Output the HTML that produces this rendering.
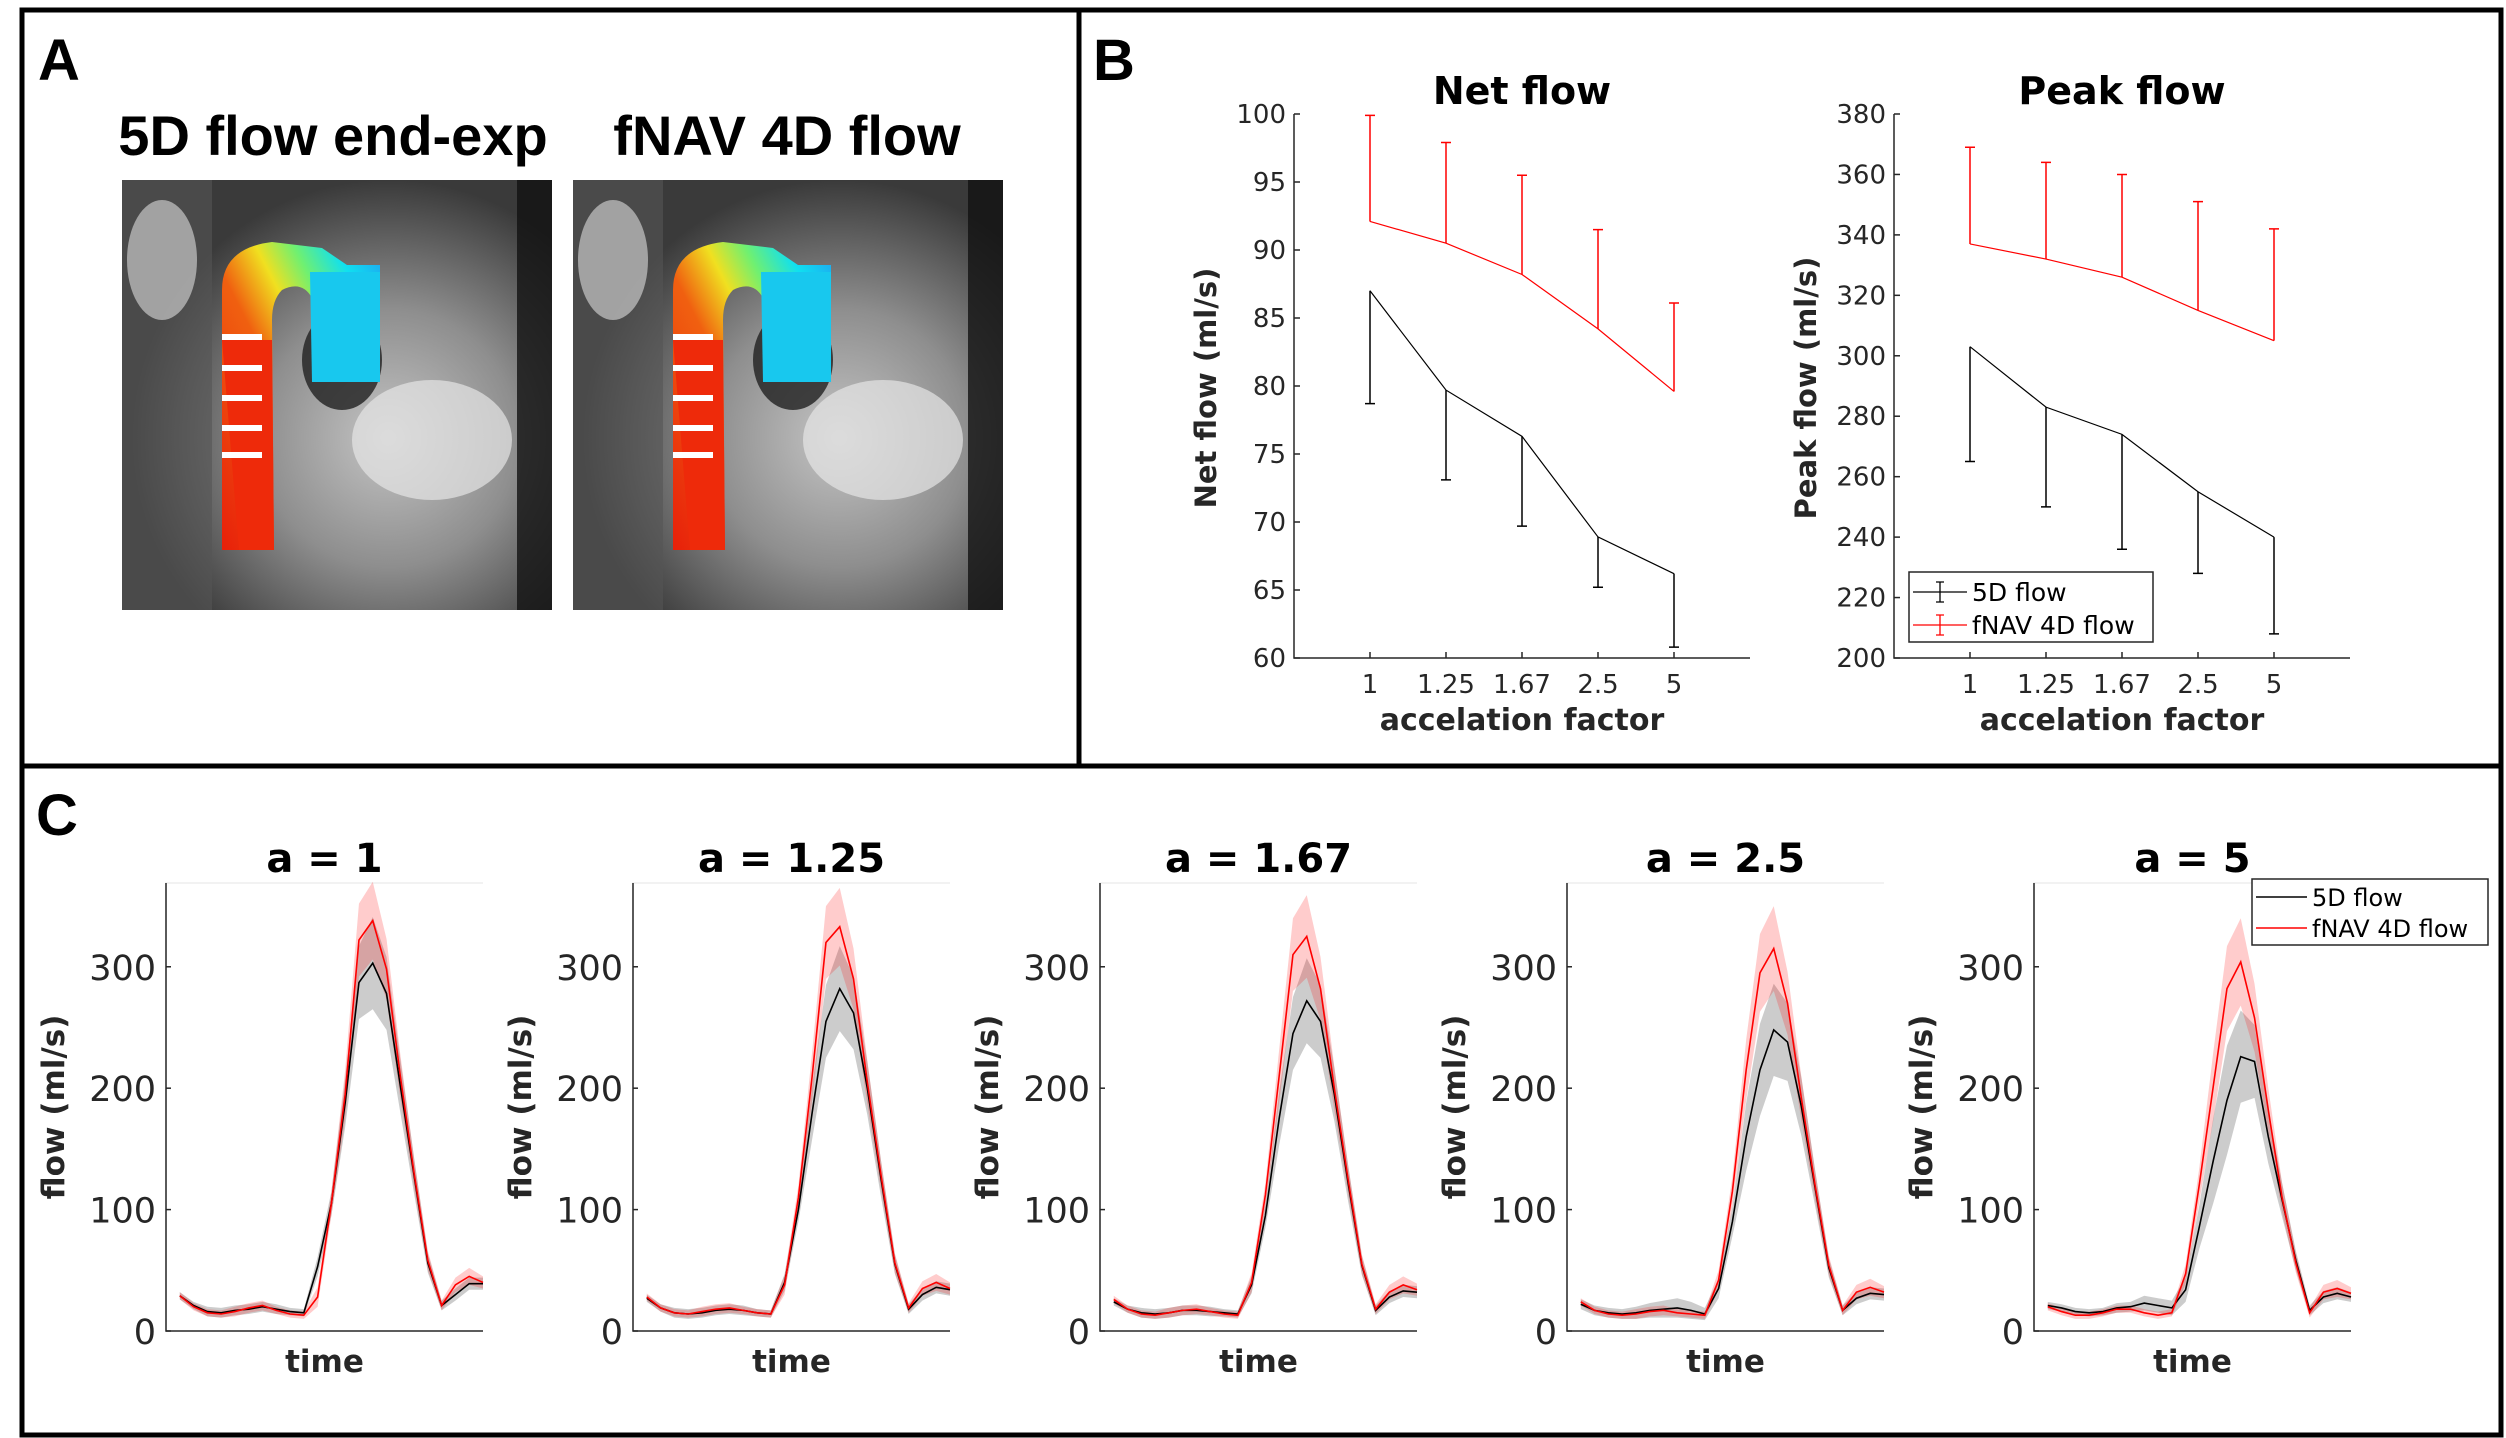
<!DOCTYPE html>
<html><head><meta charset="utf-8"><style>
body{margin:0;background:#fff}
svg{display:block}
text{font-family:"DejaVu Sans","Liberation Sans",sans-serif}
text.lib{font-family:"Liberation Sans","DejaVu Sans",sans-serif}
</style></head><body>
<svg id="fig" width="2506" height="1438" viewBox="0 0 2506 1438" xmlns="http://www.w3.org/2000/svg">
<defs>
<radialGradient id="mri" cx="0.62" cy="0.6" r="0.6">
<stop offset="0" stop-color="#c4c4c4"/><stop offset="0.5" stop-color="#8e8e8e"/><stop offset="1" stop-color="#3a3a3a"/>
</radialGradient>
<linearGradient id="aorta" x1="0" y1="1" x2="1" y2="0">
<stop offset="0" stop-color="#e8200a"/><stop offset="0.45" stop-color="#f06010"/><stop offset="0.6" stop-color="#f0e020"/><stop offset="0.72" stop-color="#70f070"/><stop offset="0.85" stop-color="#10e0f0"/><stop offset="1" stop-color="#20a0f0"/>
</linearGradient>
<g id="mriimg">
<rect x="0" y="0" width="430" height="430" fill="url(#mri)"/>
<rect x="0" y="0" width="90" height="430" fill="#555" opacity="0.6"/>
<ellipse cx="40" cy="80" rx="35" ry="60" fill="#ddd" opacity="0.6"/>
<ellipse cx="310" cy="260" rx="80" ry="60" fill="#e6e6e6" opacity="0.7"/>
<rect x="395" y="0" width="35" height="430" fill="#111" opacity="0.8"/>
<ellipse cx="220" cy="180" rx="40" ry="50" fill="#202020" opacity="0.8"/>
<path d="M100,370 L100,110 Q100,68 150,62 L200,68 L225,85 L258,85 L258,202 L190,202 L190,118 Q180,100 160,110 Q150,120 150,140 L152,370 Z" fill="url(#aorta)"/>
<path d="M100,160 L150,160 L152,370 L117,370 Z" fill="#ee2a0a"/>
<path d="M188,92 L258,92 L258,202 L190,202 Z" fill="#18c8ee"/>
<g fill="#fff"><rect x="100" y="154" width="40" height="6"/><rect x="100" y="185" width="40" height="6"/><rect x="100" y="215" width="40" height="6"/><rect x="100" y="245" width="40" height="6"/><rect x="100" y="272" width="40" height="6"/></g>
</g>
</defs>
<g fill="none" stroke="#000" stroke-width="5">
<rect x="22" y="10" width="2479" height="1425"/>
<line x1="22" y1="766" x2="2501" y2="766"/>
<line x1="1079" y1="10" x2="1079" y2="766"/>
</g>
<text class="lib" x="38" y="80" font-size="58" font-weight="bold">A</text>
<text class="lib" x="1093" y="80" font-size="58" font-weight="bold">B</text>
<text class="lib" x="36" y="835" font-size="58" font-weight="bold">C</text>
<text class="lib" x="333" y="155" font-size="56" font-weight="bold" text-anchor="middle">5D flow end-exp</text>
<text class="lib" x="787" y="155" font-size="56" font-weight="bold" text-anchor="middle">fNAV 4D flow</text>
<use href="#mriimg" x="122" y="180"/>
<use href="#mriimg" x="573" y="180"/>
<g id="panelB"></g>
<g id="panelC"></g>
</svg>
<script>
const NS="http://www.w3.org/2000/svg";
const cats=["1","1.25","1.67","2.5","5"];
const netBlack=[87,79.7,76.3,68.9,66.2];
const netBlackLow=[78.7,73.1,69.7,65.2,60.8];
const netRed=[92.1,90.5,88.2,84.2,79.6];
const netRedHigh=[99.9,97.9,95.5,91.5,86.1];
const netTicks=[60,65,70,75,80,85,90,95,100];
const peakBlack=[303,283,274,255,240];
const peakBlackLow=[265,250,236,228,208];
const peakRed=[337,332,326,315,305];
const peakRedHigh=[369,364,360,351,342];
const peakTicks=[200,220,240,260,280,300,320,340,360,380];

const titlesC=["a = 1","a = 1.25","a = 1.67","a = 2.5","a = 5"];
const cTicks=[0,100,200,300];
const blackMean=[
[29,21,16,15,17,18,20,18,16,15,53,105,188,287,303,278,202,128,56,21,30,39,39],
[27,19,15,14,15,17,18,17,15,14,40,100,180,255,282,262,200,125,55,18,30,36,34],
[24,18,15,14,15,17,17,16,15,14,38,95,175,245,272,255,195,122,54,17,28,33,32],
[22,17,15,14,15,17,18,19,17,14,35,90,160,215,248,238,185,118,52,17,27,31,30],
[21,19,16,15,16,19,20,23,21,19,34,86,140,190,226,222,160,108,58,17,28,31,28]];
const blackSd=[
[3,3,4,4,4,4,4,4,3,3,8,10,20,30,38,30,22,15,8,4,5,5,5],
[3,3,4,4,4,4,4,4,3,3,7,10,22,30,35,30,22,15,8,4,5,5,5],
[3,3,4,4,4,4,4,4,3,3,7,10,22,30,35,30,22,15,8,4,5,5,5],
[4,4,4,4,5,6,7,8,7,5,8,12,28,38,38,32,24,15,8,4,5,5,5],
[3,3,3,3,3,4,4,6,6,6,10,18,35,45,38,30,22,14,8,4,5,5,4]];
const redMean=[
[29,20,15,14,16,19,21,17,14,13,28,105,195,322,338,298,210,130,58,21,38,45,40],
[28,19,15,14,16,18,19,17,15,14,38,110,210,320,333,290,205,128,56,19,35,40,35],
[26,18,14,13,15,17,18,16,14,13,40,112,210,310,325,282,200,125,55,18,32,38,34],
[24,17,14,13,14,16,17,15,14,13,42,115,215,295,315,270,192,120,54,17,32,36,32],
[20,16,13,13,15,18,18,15,13,15,47,121,201,282,304,258,182,110,56,15,32,35,31]];
const redSd=[
[3,3,3,3,4,4,4,3,3,3,8,10,20,30,32,25,18,12,8,4,6,7,5],
[3,3,3,3,4,4,4,3,3,3,8,10,20,30,32,25,18,12,8,4,6,7,5],
[3,3,3,3,4,4,4,3,3,3,8,10,22,30,34,26,18,12,8,4,6,7,5],
[3,3,3,3,4,4,4,3,3,3,8,12,25,32,35,26,18,12,8,4,6,7,5],
[3,3,3,3,3,3,3,3,3,3,8,14,28,35,36,28,18,12,8,4,6,7,5]];

function el(tag,attrs,parent,txt){const e=document.createElementNS(NS,tag);for(const k in attrs)e.setAttribute(k,attrs[k]);if(txt!==undefined)e.textContent=txt;parent.appendChild(e);return e;}

// Panel B
const B=document.getElementById('panelB');
function drawB(x0,x1,yTop,yBot,vmin,vmax,ticks,mb,mbl,mr,mrh,title,ylab,legend,key){
  const g=el('g',{},B);
  
  
  const sx=i=>x0+(i+1)*(x1-x0)/6;
  const sy=v=>yBot-(v-vmin)/(vmax-vmin)*(yBot-yTop);
  const ax=el('path',{d:`M${x0},${yTop}L${x0},${yBot}L${x1},${yBot}`,fill:'none',stroke:'#262626','stroke-width':1.5},g);
  
  
  ticks.forEach(t=>{
    el('line',{x1:x0,x2:x0+6,y1:sy(t),y2:sy(t),stroke:'#262626','stroke-width':1.5},g);
    const tl=el('text',{x:x0-8,y:sy(t)+9,'font-size':26,'text-anchor':'end',fill:'#262626'},g,String(t));
    
    
  });
  cats.forEach((c,i)=>{
    el('line',{x1:sx(i),x2:sx(i),y1:yBot,y2:yBot-6,stroke:'#262626','stroke-width':1.5},g);
    const tl=el('text',{x:sx(i),y:yBot+35,'font-size':26,'text-anchor':'middle',fill:'#262626'},g,c);
    
    
  });
  const series=[[mb,mbl,'#000'],[mr,mrh,'#ff0000']];
  series.forEach(([m,e,col],si)=>{
    const ln=el('polyline',{points:m.map((v,i)=>sx(i)+','+sy(v)).join(' '),fill:'none',stroke:col,'stroke-width':1.2},g);
    
    
    m.forEach((v,i)=>{
      const eb=el('path',{d:`M${sx(i)},${sy(v)}L${sx(i)},${sy(e[i])}M${sx(i)-5},${sy(e[i])}L${sx(i)+5},${sy(e[i])}`,stroke:col,'stroke-width':1.5,fill:'none'},g);
      
      
    });
  });
  const tt=el('text',{x:(x0+x1)/2,y:yTop-10,'font-size':38,'font-weight':'bold','text-anchor':'middle'},g,title);
  
  
  const xl=el('text',{x:(x0+x1)/2,y:yBot+72,'font-size':30,'font-weight':'bold','text-anchor':'middle',fill:'#262626'},g,'accelation factor');
  
  
  const cy=(yTop+yBot)/2+2, cx=x0-78;
  const yl=el('text',{x:cx,y:cy,'font-size':29,'font-weight':'bold','text-anchor':'middle',fill:'#262626',transform:`rotate(-90 ${cx} ${cy})`},g,ylab);
  
  
  if(legend){
    const lg=el('g',{},g);
    
    
    el('rect',{x:1909,y:572,width:244,height:70,fill:'#fff',stroke:'#262626','stroke-width':1.5},lg);
    [['5D flow','#000',592],['fNAV 4D flow','#ff0000',625]].forEach(([t,c,y])=>{
      el('path',{d:`M1913,${y}L1967,${y}M1940,${y-10}L1940,${y+10}M1936,${y-10}L1944,${y-10}M1936,${y+10}L1944,${y+10}`,stroke:c,'stroke-width':1.3,fill:'none'},lg);
      const lt=el('text',{x:1972,y:y+9,'font-size':25,fill:'#000'},lg,t);
      
      
    });
  }
}
drawB(1294,1750,114,658,60,100,netTicks,netBlack,netBlackLow,netRed,netRedHigh,'Net flow','Net flow (ml/s)',false,'net-flow');
drawB(1894,2350,114,658,200,380,peakTicks,peakBlack,peakBlackLow,peakRed,peakRedHigh,'Peak flow','Peak flow (ml/s)',true,'peak-flow');

// Panel C
const C=document.getElementById('panelC');
const yTopC=883,yBotC=1331,vmaxC=369,N=23;
titlesC.forEach((title,p)=>{
  const x0=166+p*467, x1=x0+317;
  const g=el('g',{},C);
  
  
  const sx=i=>x0+(i+1)*(x1-x0)/N;
  const sy=v=>yBotC-v/vmaxC*(yBotC-yTopC);
  el('path',{d:`M${x0},${yBotC}L${x0},${yTopC}L${x1},${yTopC}`,fill:'none',stroke:'#eee','stroke-width':1.5},g);
  const ax=el('path',{d:`M${x0},${yTopC}L${x0},${yBotC}L${x1},${yBotC}`,fill:'none',stroke:'#262626','stroke-width':1.5},g);
  
  
  cTicks.forEach(t=>{
    el('line',{x1:x0,x2:x0+5,y1:sy(t),y2:sy(t),stroke:'#262626','stroke-width':1.5},g);
    const tl=el('text',{x:x0-10,y:sy(t)+13,'font-size':35,'text-anchor':'end',fill:'#262626'},g,String(t));
    
    
  });
  const sets=[[blackMean[p],blackSd[p],'rgba(0,0,0,0.2)','#000','5d'],[redMean[p],redSd[p],'rgba(255,0,0,0.2)','#ff0000','fnav']];
  sets.forEach(([m,s,fill,col,nm])=>{
    const up=m.map((v,i)=>sx(i)+','+sy(v+s[i]));
    const lo=m.map((v,i)=>sx(i)+','+sy(Math.max(0,v-s[i]))).reverse();
    const band=el('polygon',{points:up.concat(lo).join(' '),fill:fill,stroke:'none'},g);
    
    
  });
  sets.forEach(([m,s,fill,col,nm])=>{
    const ln=el('polyline',{points:m.map((v,i)=>sx(i)+','+sy(v)).join(' '),fill:'none',stroke:col,'stroke-width':1.6},g);
    
    
  });
  const tt=el('text',{x:(x0+x1)/2,y:872,'font-size':40,'font-weight':'bold','text-anchor':'middle'},g,title);
  
  
  const xl=el('text',{x:(x0+x1)/2,y:1372,'font-size':31,'font-weight':'bold','text-anchor':'middle',fill:'#262626'},g,'time');
  
  
  const cx=x0-102, cy=1107;
  const yl=el('text',{x:cx,y:cy,'font-size':31,'font-weight':'bold','text-anchor':'middle',fill:'#262626',transform:`rotate(-90 ${cx} ${cy})`},g,'flow (ml/s)');
  
  
});
const lg=el('g',{},C);


el('rect',{x:2252,y:879,width:236,height:66,fill:'#fff',stroke:'#262626','stroke-width':1.5},lg);
[['5D flow','#000',897],['fNAV 4D flow','#ff0000',928]].forEach(([t,c,y])=>{
  el('line',{x1:2256,x2:2307,y1:y,y2:y,stroke:c,'stroke-width':1.6},lg);
  const lt=el('text',{x:2312,y:y+9,'font-size':24,fill:'#000'},lg,t);
  
  
});
</script>
</body></html>
